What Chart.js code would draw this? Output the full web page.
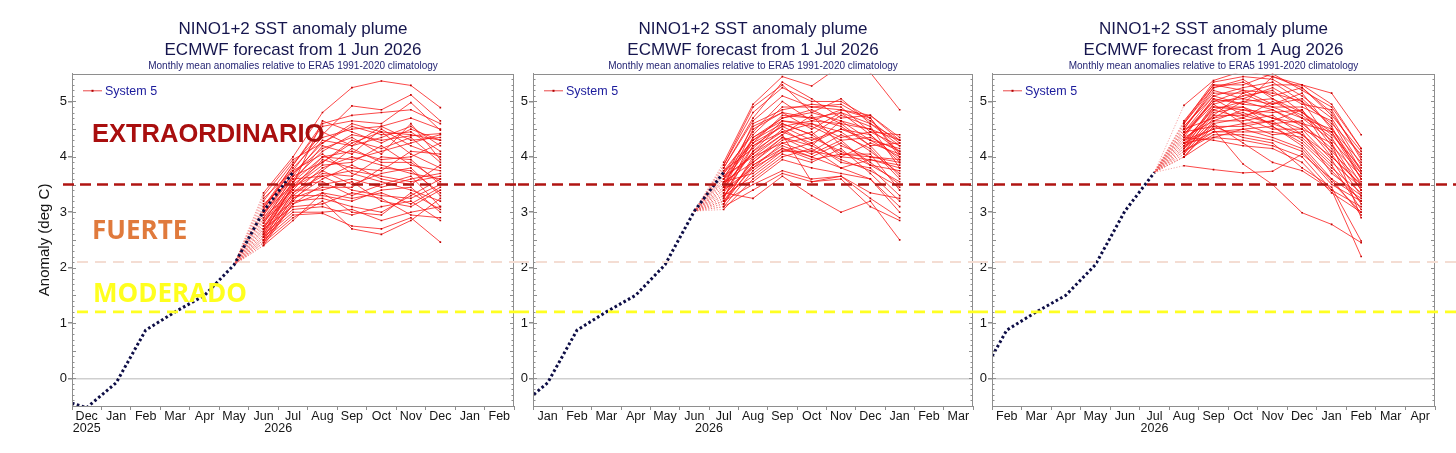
<!DOCTYPE html>
<html>
<head>
<meta charset="utf-8">
<script src="https://cdn.jsdelivr.net/npm/chart.js@4.4.1/dist/chart.umd.min.js"></script>
<style>
  body { margin: 0; background: #fff; width: 1456px; height: 453px; overflow: hidden; position: relative; }
  canvas { position: absolute; top: 0; }
</style>
</head>
<body>
<canvas id="p1" width="518" height="453" style="left:0"></canvas>
<canvas id="p2" width="459" height="453" style="left:518px"></canvas>
<canvas id="p3" width="479" height="453" style="left:977px"></canvas>
<script>
// month index 0 = 1 Dec 2025, values are monthly means plotted mid-month
var monthNames = ['Dec', 'Jan', 'Feb', 'Mar', 'Apr', 'May', 'Jun', 'Jul', 'Aug', 'Sep', 'Oct', 'Nov'];
var obsMonths = [-0.5, 0.5, 1.5, 2.5, 3.5, 4.5, 5.5, 6.5, 7.5];
var obsValues = [-0.37, -0.53, -0.08, 0.87, 1.2, 1.5, 2.05, 3.02, 3.72];
var yTickValues = [0, 1, 2, 3, 4, 5];
var thresholds = [3.5, 2.1, 1.2];

var years1 = [{ at: 0.5, text: '2025' }, { at: 7, text: '2026' }];
var years2 = [{ at: 7, text: '2026' }];
var years3 = [{ at: 7.5, text: '2026' }];

// forecast from 1 Jun 2026: Jun..Dec
var junMembers = [
  [3.35, 4.00, 4.80, 5.25, 5.37, 5.29, 4.89],
  [3.20, 3.90, 4.40, 4.92, 4.85, 5.12, 4.65],
  [3.10, 3.85, 4.55, 4.65, 4.60, 4.98, 4.48],
  [3.05, 3.80, 4.35, 4.50, 4.55, 4.70, 4.50],
  [3.00, 3.70, 4.25, 4.60, 4.45, 4.40, 4.30],
  [2.95, 3.65, 4.30, 4.20, 4.35, 4.55, 4.20],
  [2.90, 3.60, 4.10, 4.40, 4.30, 4.38, 4.42],
  [2.85, 3.55, 4.20, 4.05, 4.50, 4.20, 4.00],
  [2.80, 3.50, 3.90, 4.30, 4.15, 4.35, 3.90],
  [2.75, 3.45, 4.00, 4.10, 3.95, 4.00, 4.25],
  [2.70, 3.45, 3.85, 3.90, 4.20, 3.85, 3.75],
  [2.65, 3.40, 3.95, 3.80, 3.75, 4.10, 4.05],
  [2.60, 3.35, 3.80, 4.00, 3.85, 3.70, 3.60],
  [2.55, 3.30, 3.70, 3.65, 4.00, 3.95, 3.50],
  [2.50, 3.25, 3.60, 3.85, 3.60, 3.50, 3.85],
  [2.45, 3.20, 3.75, 3.50, 3.70, 3.80, 3.30],
  [2.40, 3.15, 3.50, 3.60, 3.45, 3.60, 3.70],
  [3.25, 3.75, 4.05, 3.70, 3.55, 3.40, 3.20],
  [3.15, 3.60, 3.65, 3.40, 3.30, 3.25, 3.50],
  [3.00, 3.50, 3.55, 3.30, 3.50, 3.65, 3.10],
  [2.90, 3.40, 3.40, 3.55, 3.20, 3.10, 3.40],
  [2.85, 3.30, 3.30, 3.20, 3.40, 3.45, 3.00],
  [2.75, 3.20, 3.25, 3.10, 3.00, 3.30, 3.60],
  [2.70, 3.10, 3.15, 3.35, 3.25, 2.95, 2.90],
  [2.60, 3.05, 3.10, 2.95, 3.10, 3.20, 2.85],
  [2.55, 3.00, 3.00, 3.05, 2.85, 3.00, 3.10],
  [2.50, 2.95, 2.98, 2.75, 2.70, 2.90, 2.46],
  [2.45, 2.90, 3.20, 2.70, 2.60, 2.85, 3.25],
  [2.40, 2.85, 3.35, 3.00, 2.95, 3.35, 3.05],
  [3.30, 3.95, 4.25, 4.55, 4.40, 4.45, 4.10],
  [3.10, 3.75, 4.45, 4.20, 4.55, 4.30, 4.35],
  [2.95, 3.70, 4.15, 4.35, 4.05, 4.60, 3.95],
  [2.80, 3.65, 3.90, 4.25, 4.45, 4.05, 3.80],
  [2.70, 3.55, 4.00, 3.95, 4.10, 4.25, 4.40],
  [2.65, 3.45, 3.75, 4.15, 3.90, 3.90, 3.55],
  [2.55, 3.35, 3.65, 3.75, 3.65, 3.55, 3.65],
  [2.50, 3.25, 3.45, 3.45, 3.80, 3.75, 3.35],
  [2.45, 3.15, 3.35, 3.25, 3.35, 3.15, 3.45],
  [3.05, 3.85, 4.60, 4.75, 4.80, 4.85, 4.60],
  [2.60, 3.50, 4.65, 4.45, 4.25, 4.50, 4.30]
];

// forecast from 1 Jul 2026: Jul..Jan
var julMembers = [
  [3.90, 4.95, 5.45, 5.28, 5.65, 5.52, 4.85],
  [3.85, 4.90, 5.30, 4.80, 5.05, 4.60, 4.20],
  [3.80, 4.70, 5.35, 5.05, 4.70, 4.75, 4.35],
  [3.45, 4.60, 4.85, 4.95, 4.90, 4.45, 4.40],
  [3.70, 4.45, 5.00, 4.65, 4.85, 4.70, 4.00],
  [3.25, 4.35, 4.70, 4.85, 4.60, 4.50, 4.30],
  [3.60, 4.30, 4.60, 4.40, 4.75, 4.55, 3.80],
  [3.55, 4.25, 4.75, 4.70, 4.55, 4.20, 4.25],
  [3.40, 4.20, 4.55, 4.30, 4.50, 4.40, 3.90],
  [3.75, 4.15, 4.65, 4.55, 4.30, 4.35, 4.10],
  [3.35, 4.10, 4.45, 4.60, 4.45, 4.10, 3.70],
  [3.50, 4.05, 4.50, 4.20, 4.65, 4.30, 4.15],
  [3.65, 4.00, 4.40, 4.75, 4.20, 4.00, 3.95],
  [3.20, 3.95, 4.35, 4.10, 4.40, 4.15, 3.60],
  [3.30, 3.90, 4.30, 4.45, 4.00, 4.25, 4.05],
  [3.15, 3.85, 4.20, 4.00, 4.25, 3.90, 3.50],
  [3.40, 3.80, 4.25, 4.35, 4.10, 3.85, 3.75],
  [3.10, 3.75, 4.15, 3.95, 4.05, 4.05, 3.40],
  [3.55, 3.70, 4.10, 4.25, 3.90, 3.80, 3.30],
  [3.30, 3.65, 4.05, 3.90, 4.15, 3.70, 3.20],
  [3.05, 3.60, 4.00, 4.15, 3.80, 3.95, 3.85],
  [3.45, 3.55, 3.95, 3.80, 3.70, 3.60, 3.10],
  [3.20, 3.50, 3.75, 3.60, 3.65, 3.25, 2.90],
  [3.10, 3.40, 3.70, 3.55, 3.60, 3.10, 2.85],
  [3.35, 3.25, 3.65, 3.30, 3.00, 3.20, 2.50],
  [3.60, 4.55, 4.80, 4.50, 4.80, 4.60, 4.30],
  [3.75, 4.40, 4.90, 4.90, 4.95, 4.65, 4.25],
  [3.50, 4.35, 4.65, 4.60, 4.35, 4.45, 4.20],
  [3.65, 4.25, 4.55, 4.65, 4.60, 4.20, 3.65],
  [3.25, 4.20, 4.45, 4.25, 4.50, 4.30, 4.00],
  [3.45, 4.10, 4.60, 4.40, 4.05, 4.00, 3.90],
  [3.15, 4.00, 4.25, 4.05, 4.30, 3.85, 3.55],
  [3.70, 4.30, 4.70, 4.80, 4.65, 4.50, 4.10],
  [3.55, 3.90, 4.35, 4.20, 3.95, 3.75, 3.45],
  [3.30, 3.85, 4.15, 4.00, 3.80, 3.60, 3.00],
  [3.80, 4.65, 5.10, 4.90, 4.85, 4.75, 4.30],
  [3.40, 4.50, 4.80, 4.70, 4.80, 4.40, 3.95],
  [3.60, 4.05, 4.40, 3.55, 3.65, 3.35, 3.25],
  [3.20, 3.80, 4.10, 4.10, 4.00, 3.95, 3.80],
  [3.85, 4.80, 5.25, 5.00, 5.00, 4.70, 4.05]
];

// forecast from 1 Aug 2026: Aug..Feb
var augMembers = [
  [4.93, 5.38, 5.55, 5.45, 5.30, 5.15, 4.40],
  [4.65, 5.30, 5.30, 5.50, 5.20, 4.90, 4.15],
  [4.60, 5.25, 5.35, 5.10, 5.25, 4.75, 4.10],
  [4.55, 5.10, 5.25, 5.35, 5.00, 4.60, 4.05],
  [4.50, 5.20, 5.05, 5.25, 4.95, 4.85, 3.95],
  [4.45, 5.00, 5.20, 4.95, 5.15, 4.50, 3.90],
  [4.40, 4.95, 5.10, 5.20, 4.80, 4.40, 3.80],
  [4.35, 5.05, 4.95, 4.90, 4.90, 4.65, 3.75],
  [4.30, 4.85, 5.00, 5.05, 4.70, 4.30, 3.70],
  [4.25, 4.90, 4.85, 4.80, 4.85, 4.20, 3.65],
  [4.20, 4.80, 4.90, 4.70, 4.60, 4.45, 3.60],
  [4.15, 4.75, 4.75, 4.85, 4.55, 4.10, 3.55],
  [4.10, 4.70, 4.80, 4.60, 4.65, 4.00, 3.50],
  [4.05, 4.65, 4.65, 4.75, 4.40, 3.90, 3.45],
  [4.00, 4.60, 4.70, 4.50, 4.50, 4.25, 3.40],
  [4.45, 4.55, 4.55, 4.65, 4.30, 3.80, 3.35],
  [4.30, 4.50, 4.60, 4.40, 4.45, 3.70, 3.30],
  [4.20, 4.45, 4.50, 4.55, 4.20, 3.60, 3.25],
  [4.10, 4.40, 4.40, 4.30, 4.10, 3.50, 3.20],
  [4.00, 4.35, 4.30, 4.20, 4.00, 3.40, 3.10],
  [4.35, 4.30, 4.20, 4.15, 3.90, 3.35, 3.00],
  [3.84, 3.77, 3.71, 3.74, 4.05, 3.60, 2.95],
  [4.25, 4.50, 3.87, 3.50, 2.99, 2.78, 2.45],
  [4.15, 4.60, 4.25, 3.90, 3.75, 3.40, 2.20],
  [4.55, 5.15, 5.15, 5.30, 5.30, 4.95, 4.15],
  [4.62, 5.35, 5.45, 5.40, 5.10, 4.70, 3.85],
  [4.40, 5.00, 5.05, 4.95, 5.05, 4.55, 3.60],
  [4.05, 4.85, 4.70, 5.00, 4.75, 4.35, 3.50],
  [4.50, 4.70, 5.00, 4.85, 4.60, 4.15, 3.40],
  [4.20, 4.95, 4.60, 4.65, 4.85, 4.05, 3.30],
  [4.35, 4.65, 4.85, 4.70, 4.50, 3.95, 3.15],
  [4.10, 4.45, 4.45, 4.45, 4.35, 3.85, 3.05],
  [4.60, 5.30, 5.20, 5.15, 5.00, 4.25, 2.90],
  [4.00, 4.55, 4.35, 4.25, 3.80, 3.45, 2.48],
  [4.45, 5.10, 4.95, 5.45, 5.25, 4.80, 4.00],
  [4.30, 4.75, 5.15, 4.90, 4.70, 4.50, 3.75],
  [4.15, 4.90, 4.90, 4.55, 4.25, 3.75, 3.20],
  [4.25, 4.35, 4.50, 4.35, 4.15, 3.55, 3.00],
  [4.50, 5.25, 5.40, 5.05, 4.80, 4.45, 3.70],
  [4.40, 5.05, 4.75, 4.60, 4.40, 4.00, 3.50]
];

var FONT = "'Liberation Sans', Arial, Helvetica, sans-serif";
var NAVY = '#16164e';

function obsAt(x) {
  return obsValues[obsMonths.indexOf(x)];
}

function findYear(years, v) {
  for (var i = 0; i < years.length; i++) {
    if (Math.abs(years[i].at - v) < 1e-6) return years[i].text;
  }
  return '';
}

function monthTick(v, years) {
  var yr = findYear(years, v);
  if (Math.abs(v - Math.floor(v) - 0.5) < 1e-6) {
    var name = monthNames[((Math.floor(v) % 12) + 12) % 12];
    return yr ? [name, yr] : name;
  }
  return yr ? ['', yr] : '';
}

var decorPlugin = {
  id: 'decor',
  afterDraw: function (chart, args, opts) {
    var ctx = chart.ctx, a = chart.chartArea, ys = chart.scales.y;
    ctx.save();

    // frame and inner minor ticks
    ctx.strokeStyle = '#8e8e8e';
    ctx.lineWidth = 1;
    ctx.strokeRect(Math.round(a.left) + 0.5, Math.round(a.top) + 0.5,
      Math.round(a.right - a.left) - 1, Math.round(a.bottom - a.top));
    ctx.beginPath();
    for (var k = -5; k <= 55; k++) {
      var py = Math.round(ys.getPixelForValue(k / 10)) + 0.5;
      var len = k % 5 === 0 ? 4 : 2.5;
      ctx.moveTo(a.left, py); ctx.lineTo(a.left + len, py);
      ctx.moveTo(a.right, py); ctx.lineTo(a.right - len, py);
    }
    ctx.stroke();

    // intensity thresholds
    var styles = [
      { color: '#b01412', width: 2.6, dash: [11, 6] },
      { color: '#f4ddd3', width: 2, dash: [11, 7] },
      { color: '#ffff22', width: 2.6, dash: [11, 7] }
    ];
    thresholds.forEach(function (t, i) {
      var py = ys.getPixelForValue(t);
      ctx.beginPath();
      ctx.setLineDash(styles[i].dash);
      ctx.strokeStyle = styles[i].color;
      ctx.lineWidth = styles[i].width;
      ctx.moveTo(opts.lineStart[i], py);
      ctx.lineTo(chart.width, py);
      ctx.stroke();
    });
    ctx.setLineDash([]);

    // legend
    var lx = a.left + 11, ly = a.top + 17;
    ctx.strokeStyle = 'rgba(230,40,40,0.85)';
    ctx.lineWidth = 1;
    ctx.beginPath(); ctx.moveTo(lx, ly); ctx.lineTo(lx + 19, ly); ctx.stroke();
    ctx.fillStyle = '#b00000';
    ctx.fillRect(lx + 8.5, ly - 1, 2, 2);
    ctx.fillStyle = '#1b1b9c';
    ctx.font = '12.5px ' + FONT;
    ctx.textBaseline = 'middle';
    ctx.fillText('System 5', lx + 22, ly + 0.5);

    // category labels
    (opts.labels || []).forEach(function (l) {
      ctx.font = l.font;
      ctx.fillStyle = l.color;
      ctx.textBaseline = 'alphabetic';
      ctx.fillText(l.text, l.x, l.y);
    });
    ctx.restore();
  }
};

function makePanel(id, cfg) {
  var datasets = [{
    data: obsMonths.map(function (m, i) { return { x: m, y: obsValues[i] }; }),
    borderColor: '#0d0d46',
    borderWidth: 3,
    borderDash: [2.6, 2.5],
    pointRadius: 0,
    tension: 0
  }];
  var firstX = cfg.branch + 1;
  cfg.members.forEach(function (vals) {
    var pts = [{ x: cfg.branch, y: obsAt(cfg.branch) }];
    vals.forEach(function (v, i) { pts.push({ x: firstX + i, y: v }); });
    datasets.push({
      data: pts,
      borderColor: 'rgba(250,20,20,0.78)',
      borderWidth: 1,
      pointStyle: 'rect',
      pointRadius: function (c) { return c.dataIndex === 0 ? 0 : 1.15; },
      pointBackgroundColor: '#c00000',
      pointBorderWidth: 0,
      segment: {
        borderDash: function (c) { return c.p0DataIndex === 0 ? [1.2, 1.6] : undefined; },
        borderColor: function (c) { return c.p0DataIndex === 0 ? 'rgba(240,90,90,0.55)' : undefined; }
      }
    });
  });

  return new Chart(document.getElementById(id), {
    type: 'line',
    data: { datasets: datasets },
    plugins: [decorPlugin],
    options: {
      responsive: false,
      animation: false,
      events: [],
      layout: { padding: cfg.padding },
      plugins: {
        legend: { display: false },
        tooltip: { enabled: false },
        title: {
          display: true,
          fullSize: false,
          text: ['NINO1+2 SST anomaly plume', cfg.title],
          color: NAVY,
          font: { family: FONT, size: 17, weight: 'normal', lineHeight: 1.2 },
          padding: { top: 19.5, bottom: 0 }
        },
        subtitle: {
          display: true,
          fullSize: false,
          text: 'Monthly mean anomalies relative to ERA5 1991-2020 climatology',
          color: '#1f1f70',
          font: { family: FONT, size: 10, lineHeight: 1.2 },
          padding: { top: 0, bottom: 1.5 }
        },
        decor: { lineStart: cfg.lineStart, labels: cfg.labels }
      },
      scales: {
        x: {
          type: 'linear',
          min: cfg.xMin,
          max: cfg.xMin + 15,
          afterBuildTicks: function (scale) {
            var t = [];
            for (var v = cfg.xMin; v <= cfg.xMin + 15; v += 0.5) t.push({ value: v });
            scale.ticks = t;
          },
          afterFit: function (scale) { scale.height = 42; },
          ticks: {
            autoSkip: false,
            maxRotation: 0,
            padding: 1,
            color: '#151515',
            font: { family: FONT, size: 12.5, lineHeight: 0.96 },
            callback: function (v) { return monthTick(v, cfg.years); }
          },
          grid: {
            drawOnChartArea: false,
            tickLength: 4,
            tickColor: function (c) {
              return Number.isInteger(c.tick.value) ? '#8e8e8e' : 'rgba(0,0,0,0)';
            }
          },
          border: { color: '#8e8e8e' }
        },
        y: {
          type: 'linear',
          min: -0.5,
          max: 5.5,
          afterBuildTicks: function (scale) {
            scale.ticks = yTickValues.map(function (v) { return { value: v }; });
          },
          afterFit: function (scale) { scale.width = cfg.yWidth; },
          ticks: {
            padding: 1,
            color: '#151515',
            font: { family: FONT, size: 13 }
          },
          grid: {
            lineWidth: 1.5,
            color: function (c) {
              return c.tick && c.tick.value === 0 ? '#cfcfcf' : 'rgba(0,0,0,0)';
            },
            tickColor: '#8e8e8e',
            tickLength: 4
          },
          border: { color: '#8e8e8e' },
          title: {
            display: cfg.yTitle,
            text: 'Anomaly (deg C)',
            color: '#151515',
            font: { family: FONT, size: 15 },
            padding: 0
          }
        }
      }
    }
  });
}

makePanel('p1', {
  title: 'ECMWF forecast from 1 Jun 2026',
  xMin: 0, branch: 5.5, members: junMembers, years: years1,
  padding: { left: 36, right: 2, top: 0, bottom: 5 },
  yWidth: 36, yTitle: true,
  lineStart: [63, 77, 77],
  labels: [
    { text: 'EXTRAORDINARIO', x: 92, y: 142, color: '#a90e0e', font: 'bold 25.5px ' + FONT },
    { text: 'FUERTE', x: 92, y: 239, color: '#e07a3c', font: "bold 26px 'Open Sans', sans-serif" },
    { text: 'MODERADO', x: 93, y: 302, color: '#ffff1e', font: "bold 26px 'Open Sans', sans-serif" }
  ]
});

makePanel('p2', {
  title: 'ECMWF forecast from 1 Jul 2026',
  xMin: 1, branch: 6.5, members: julMembers, years: years2,
  padding: { left: 0, right: 1, top: 0, bottom: 5 },
  yWidth: 15, yTitle: false,
  lineStart: [0, 0, 0],
  labels: []
});

makePanel('p3', {
  title: 'ECMWF forecast from 1 Aug 2026',
  xMin: 2, branch: 7.5, members: augMembers, years: years3,
  padding: { left: 0, right: 21, top: 0, bottom: 5 },
  yWidth: 15, yTitle: false,
  lineStart: [0, 0, 0],
  labels: []
});
</script>
</body>
</html>
